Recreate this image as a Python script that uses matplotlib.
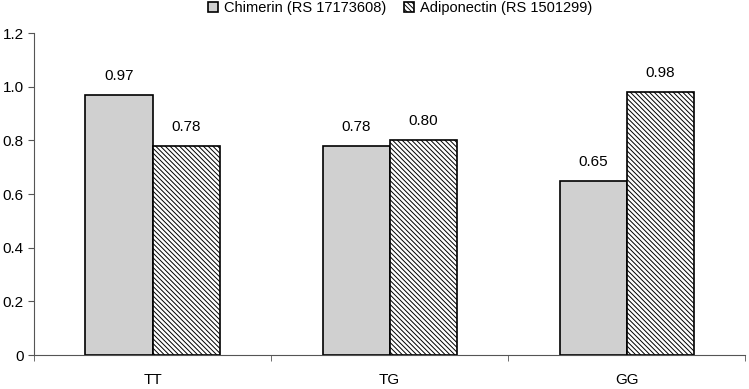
import matplotlib
matplotlib.use("Agg")
import matplotlib.pyplot as plt
import numpy as np

plt.rcParams['font.family'] = ['Liberation Sans', 'DejaVu Sans']
plt.rcParams['hatch.linewidth'] = 0.7

categories = ["TT", "TG", "GG"]
chimerin = [0.97, 0.78, 0.65]
adiponectin = [0.78, 0.80, 0.98]
series_names = ["Chimerin (RS 17173608)", "Adiponectin (RS 1501299)"]
yticks = [0, 0.2, 0.4, 0.6, 0.8, 1.0, 1.2]
ytick_labels = ["0", "0.2", "0.4", "0.6", "0.8", "1.0", "1.2"]

fig = plt.figure(figsize=(7.49, 3.89), dpi=100)
ax = fig.add_axes([0.0454, 0.0874, 0.9496, 0.8276])

x = np.arange(len(categories))
w = 0.283
b1 = ax.bar(x - w/2, chimerin, w, color="#d0d0d0", edgecolor="black", linewidth=1.2,
            label=series_names[0])
b2 = ax.bar(x + w/2, adiponectin, w, color="white", edgecolor="black", linewidth=1.2,
            hatch="\\\\\\\\\\\\\\", label=series_names[1])

for bars, vals in ((b1, chimerin), (b2, adiponectin)):
    for rect, v in zip(bars, vals):
        ax.text(rect.get_x() + rect.get_width()/2, v + 0.045, f"{v:.2f}",
                ha="center", va="bottom", fontsize=11)

ax.set_xlim(-0.5, 2.5)
ax.set_ylim(0, 1.2)
ax.set_xticks(x)
ax.set_xticklabels(categories, fontsize=11)
ax.set_xticks([-0.5, 0.5, 1.5, 2.5], minor=True)
ax.set_yticks(yticks)
ax.set_yticklabels(ytick_labels, fontsize=11)
ax.tick_params(axis="x", which="major", length=0, pad=13)
ax.tick_params(axis="x", which="minor", length=4, direction="out", color="#555555")
ax.tick_params(axis="y", length=4, direction="out", color="#555555")
for s in ("top", "right"):
    ax.spines[s].set_visible(False)
ax.spines["left"].set_color("#555555")
ax.spines["bottom"].set_color("#555555")

leg = ax.legend(loc="upper center", bbox_to_anchor=(0.515, 1.14), ncol=2, frameon=False,
                fontsize=10.5, handlelength=0.7, handleheight=0.7, columnspacing=1.2,
                handletextpad=0.4)

fig.savefig("out.png", dpi=100)
